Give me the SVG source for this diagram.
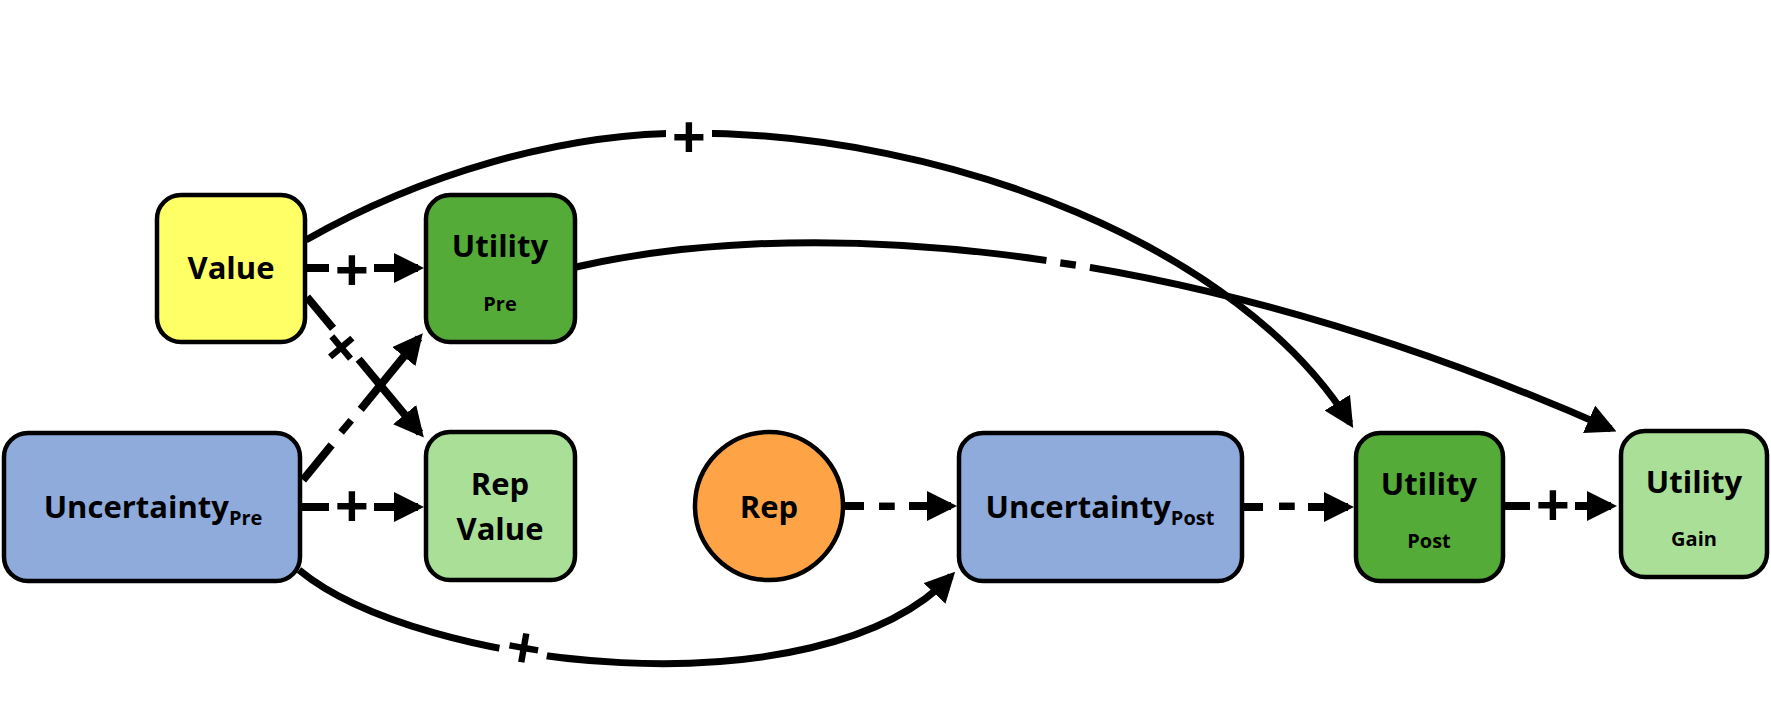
<svg xmlns="http://www.w3.org/2000/svg" width="1771" height="719" viewBox="0 0 1771 719">
<style>
.node{stroke:#000;stroke-width:4.5}
.t{font-family:"Open Sans","Noto Sans",sans-serif;font-weight:700;fill:#000;text-anchor:middle}
.big{font-size:31px}
.small{font-size:20px}
.ln{fill:none;stroke:#000;stroke-width:8}
.cv{fill:none;stroke:#000;stroke-width:7}
.gap{fill:#fff}
.lbl{font-family:"Open Sans","Noto Sans",sans-serif;font-weight:700;font-size:60px;fill:#000;text-anchor:middle}
</style>
<defs>
<marker id="ah" markerUnits="userSpaceOnUse" markerWidth="30" markerHeight="30" viewBox="0 0 30 30" refX="24" refY="15" orient="auto">
<path d="M0,0 L30,15 L0,30 z" fill="#000"/>
</marker>
</defs>
<rect width="1771" height="719" fill="#fff"/>
<g id="connectors">
<path class="cv" d="M306,240 C420,175 560,133 689,133 C950,133 1240,247 1350,423" marker-end="url(#ah)"/>
<path class="cv" d="M576,267 C780,220 1150,225 1611,429" marker-end="url(#ah)"/>
<path class="cv" d="M299,570 C420,670 820,715 951,576" marker-end="url(#ah)"/>
<path class="ln" d="M307,268 L418,268" marker-end="url(#ah)"/>
<path class="ln" d="M302,507 L418,507" marker-end="url(#ah)"/>
<path class="ln" d="M307,297 L420,433" marker-end="url(#ah)"/>
<path class="ln" d="M303,480 L419,338" marker-end="url(#ah)"/>
<path class="ln" d="M843,506 L951,506" marker-end="url(#ah)"/>
<path class="ln" d="M1244,507 L1348,507" marker-end="url(#ah)"/>
<path class="ln" d="M1505,506 L1611,506" marker-end="url(#ah)"/>
<!-- label gaps -->
<rect class="gap" x="666" y="112" width="46" height="50"/>
<rect class="gap" x="-22" y="-20" width="44" height="40" transform="translate(1068,265) rotate(8)"/>
<rect class="gap" x="-24" y="-24" width="48" height="48" transform="translate(524,647) rotate(10)"/>
<rect class="gap" x="329" y="246" width="45" height="46"/>
<rect class="gap" x="329" y="484" width="45" height="46"/>
<rect class="gap" x="-20" y="-18" width="40" height="36" transform="translate(342,347) rotate(50)"/>
<rect class="gap" x="-23" y="-16" width="46" height="32" transform="translate(346,427) rotate(-50)"/>
<rect class="gap" x="864" y="490" width="45" height="34"/>
<rect class="gap" x="1263" y="490" width="45" height="34"/>
<rect class="gap" x="1530" y="486" width="45" height="40"/>
<!-- labels -->
<text class="lbl" x="689" y="159">+</text>
<text class="lbl" transform="translate(1068,265) rotate(8)" x="0" y="15">-</text>
<text class="lbl" transform="translate(524,647) rotate(10)" x="0" y="22">+</text>
<text class="lbl" x="352" y="292">+</text>
<text class="lbl" x="352" y="528">+</text>
<text class="lbl" transform="translate(342,347) rotate(50)" x="0" y="22">+</text>
<text class="lbl" transform="translate(347,427) rotate(-50)" x="0" y="15">-</text>
<text class="lbl" x="887" y="523">-</text>
<text class="lbl" x="1287" y="523">-</text>
<text class="lbl" x="1553" y="527">+</text>
</g>
<g id="value">
<rect class="node" x="157" y="195" width="148" height="147" rx="24" fill="#FFFF66"/>
<text class="t big" x="231" y="279">Value</text>
</g>
<g id="utility-pre">
<rect class="node" x="426" y="195" width="149" height="147" rx="24" fill="#55AB37"/>
<text class="t big" x="500" y="257">Utility</text>
<text class="t small" x="500" y="311">Pre</text>
</g>
<g id="rep-value">
<rect class="node" x="426" y="432" width="149" height="148" rx="24" fill="#A9DF96"/>
<text class="t big" x="500" y="495">Rep</text>
<text class="t big" x="500" y="540">Value</text>
</g>
<g id="uncertainty-pre">
<rect class="node" x="4" y="433" width="296" height="148" rx="24" fill="#8EABDC"/>
<text class="t big" x="153" y="518">Uncertainty<tspan class="small" dy="7">Pre</tspan></text>
</g>
<g id="rep">
<circle class="node" cx="769" cy="506" r="74" fill="#FFA446"/>
<text class="t big" x="769" y="518">Rep</text>
</g>
<g id="uncertainty-post">
<rect class="node" x="959" y="433" width="283" height="148" rx="24" fill="#8EABDC"/>
<text class="t big" x="1100" y="518">Uncertainty<tspan class="small" dy="7">Post</tspan></text>
</g>
<g id="utility-post">
<rect class="node" x="1356" y="433" width="147" height="148" rx="24" fill="#55AB37"/>
<text class="t big" x="1429" y="495">Utility</text>
<text class="t small" x="1429" y="548">Post</text>
</g>
<g id="utility-gain">
<rect class="node" x="1621" y="431" width="146" height="146" rx="24" fill="#A9DF96"/>
<text class="t big" x="1694" y="493">Utility</text>
<text class="t small" x="1694" y="546">Gain</text>
</g>
</svg>
